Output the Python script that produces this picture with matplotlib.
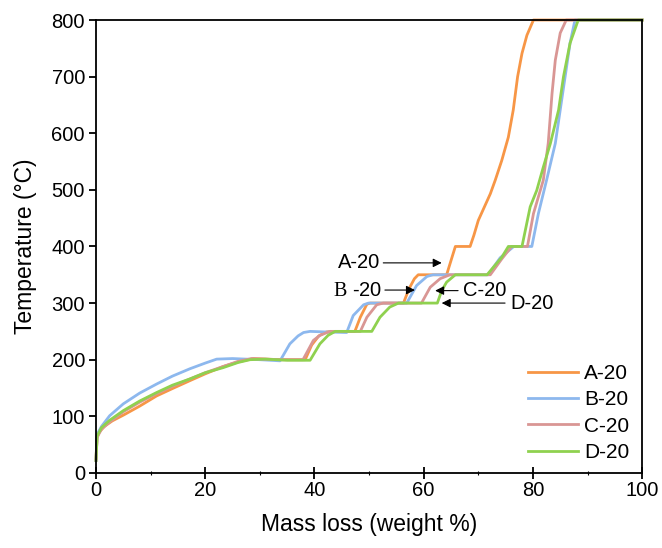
import matplotlib
matplotlib.use('Agg')
import matplotlib.pyplot as plt
from matplotlib.ticker import MultipleLocator

plt.rcParams['font.family'] = ['Liberation Sans', 'DejaVu Sans']
plt.rcParams['mathtext.fontset'] = 'custom'
plt.rcParams['mathtext.rm'] = 'Liberation Serif'

SANS = ['Liberation Sans', 'DejaVu Sans']

# mass loss (weight %) / temperature (C)
a_x = [0, 0.2, 0.6, 1.5, 3, 5, 8, 11.1, 14, 17.2, 20, 23.3, 26, 28.8, 31, 34, 38.3,
       39.5, 40.8, 42.2, 43, 47.4, 48.4, 49.6, 50.2, 56.3, 57.3, 58.3, 59.0, 64.2,
       65.8, 68.5, 69.2, 70.0, 72.2, 73.1, 74.3, 75.5, 76.4, 77.2, 78.0, 78.9, 80.1, 100]
a_t = [25, 62, 72, 82, 92, 102, 118, 136, 149, 163, 175, 188, 196, 202, 201, 200, 200,
       226, 242, 249, 250, 250, 275, 298, 300, 300, 325, 343, 350, 350,
       400, 400, 420, 446, 493, 517, 552, 593, 641, 700, 741, 773, 800, 800]

b_x = [0, 0.2, 1, 2.5, 5, 8, 11.1, 14, 17.2, 20, 22.1, 25, 30, 33.7, 35.5, 37, 38,
       39.2, 42, 45.9, 47.1, 49.0, 49.9, 56.9, 58.7, 60.6, 61.7, 71.8, 74, 76.5,
       79.8, 81.0, 82.5, 84.1, 85.0, 85.9, 86.8, 87.7, 100]
b_t = [22, 68, 82, 101, 122, 141, 157, 171, 184, 194, 201, 202, 200, 198, 228, 242, 248,
       250, 249, 248, 278, 297, 300, 300, 331, 347, 350, 350, 380, 400,
       400, 458, 517, 582, 641, 700, 759, 800, 800]

c_x = [0, 0.2, 1, 2.5, 5, 8, 11.1, 14, 17.2, 20, 23.3, 26, 28.5, 31, 34, 37.9, 39.8,
       41, 42.3, 43, 48.4, 49.6, 51.4, 52.6, 59.6, 61.2, 63.0, 64.8, 72.2, 74.3,
       76.1, 79.0, 80.1, 81.9, 82.8, 83.5, 84.1, 85.0, 86.1, 100]
c_t = [22, 63, 77, 90, 108, 125, 140, 153, 166, 177, 188, 197, 202, 201, 200, 200, 234,
       243, 248, 250, 250, 275, 297, 300, 300, 328, 343, 350, 350, 378,
       400, 400, 458, 517, 582, 670, 729, 777, 800, 800]

d_x = [0, 0.2, 1, 2.5, 5, 8, 11.1, 14, 17.2, 20, 23.3, 26, 28.2, 31, 35, 39.2, 41.0,
       42.5, 43.8, 50.5, 52.0, 53.8, 55.4, 62.5, 63.3, 64.2, 65.8, 71.6, 74.3, 75.5,
       78.0, 78.6, 79.5, 80.7, 81.9, 83.2, 84.7, 85.6, 86.8, 88.3, 100]
d_t = [22, 65, 80, 93, 110, 127, 142, 155, 166, 177, 186, 195, 200, 201, 199, 199, 228,
       243, 250, 250, 275, 293, 300, 300, 322, 337, 350, 350, 381, 400,
       400, 428, 470, 499, 540, 582, 641, 700, 759, 800, 800]

labels = ['A-20', 'B-20', 'C-20', 'D-20']
colors = ['#F79646', '#8DB8EE', '#D99694', '#8FD14F']

fig = plt.figure(figsize=(6.62, 5.48), dpi=100)
ax = fig.add_axes([0.145, 0.137, 0.825, 0.8265])

series = [(a_x, a_t), (b_x, b_t), (c_x, c_t), (d_x, d_t)]
for (xs, ts), lab, col in zip(series, labels, colors):
    ax.plot(xs, ts, color=col, lw=2.0, label=lab, clip_on=False)

ax.set_xlim(0, 100)
ax.set_ylim(0, 800)
ax.xaxis.set_major_locator(MultipleLocator(20))
ax.xaxis.set_minor_locator(MultipleLocator(10))
ax.yaxis.set_major_locator(MultipleLocator(100))
ax.tick_params(axis='x', which='major', direction='inout', length=8, width=1.3, labelsize=14.5, pad=2)
ax.tick_params(axis='x', which='minor', direction='inout', length=3, width=0.8)
ax.tick_params(axis='y', direction='out', length=5, width=1.3, labelsize=14.5, pad=3)
for s in ax.spines.values():
    s.set_linewidth(1.3)

ax.set_xlabel('Mass loss (weight %)', fontsize=16.5, labelpad=9)
ax.set_ylabel('Temperature (\u00b0C)', fontsize=16.5, labelpad=10)

# annotations with arrows
arrow = dict(arrowstyle='-|>', color='black', lw=0.8, mutation_scale=13, shrinkA=0, shrinkB=0)
ax.annotate('', xy=(63.3, 371), xytext=(52.6, 371), arrowprops=arrow)
ax.text(52.0, 371, 'A-20', ha='right', va='center', fontsize=14.5, family=SANS)
ax.annotate('', xy=(58.4, 323), xytext=(52.9, 323), arrowprops=arrow)
ax.text(52.4, 323, r'$\mathrm{B}$ -20', ha='right', va='center', fontsize=14.5, family=SANS)
ax.annotate('', xy=(62.1, 322), xytext=(66.3, 322), arrowprops=arrow)
ax.text(67.2, 322, 'C-20', ha='left', va='center', fontsize=14.5, family=SANS)
ax.annotate('', xy=(63.3, 300), xytext=(74.9, 300), arrowprops=arrow)
ax.text(75.8, 300, 'D-20', ha='left', va='center', fontsize=14.5, family=SANS)

ax.legend(loc='lower right', bbox_to_anchor=(1.011, -0.017), frameon=False, fontsize=15,
          handlelength=2.4, handletextpad=0.3, labelspacing=0.35)

fig.savefig('out.png', dpi=100)
